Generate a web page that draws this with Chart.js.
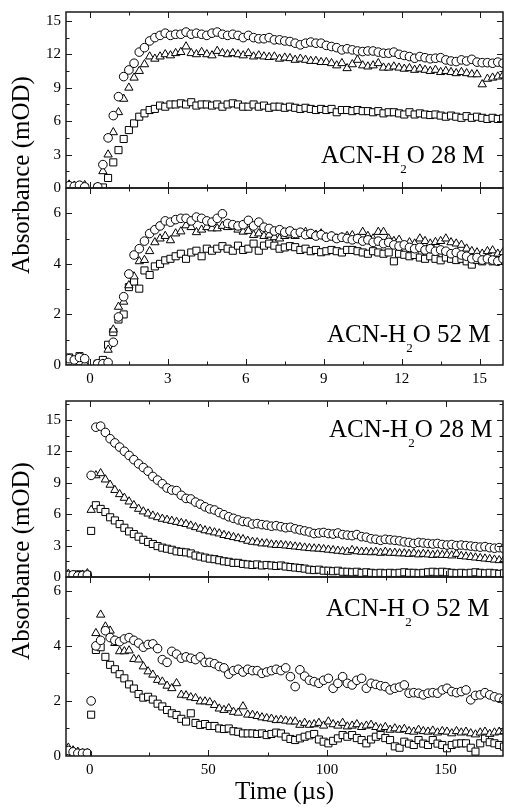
<!DOCTYPE html>
<html>
<head>
<meta charset="utf-8">
<title>Transient absorbance</title>
<script src="https://cdn.jsdelivr.net/npm/chart.js"></script>
<style>
  html, body { margin: 0; padding: 0; background: #fff; }
  #wrap { position: relative; width: 509px; height: 810px; }
  #wrap canvas { position: absolute; left: 0; top: 0; }
</style>
</head>
<body>
<div id="wrap">
  <canvas id="p1" width="509" height="810"></canvas>
  <canvas id="p2" width="509" height="810"></canvas>
  <canvas id="p3" width="509" height="810"></canvas>
  <canvas id="p4" width="509" height="810"></canvas>
</div>
<script>
const SERIF = '"Liberation Serif", "Times New Roman", Times, serif';

// time axes (µs)
const tShort = [-0.8, -0.6, -0.4, -0.2,
  0.3, 0.5, 0.7, 0.9, 1.1, 1.3, 1.5, 1.7, 1.9, 2.1,
  2.3, 2.5, 2.7, 2.9, 3.1, 3.3, 3.5, 3.7, 3.9, 4.1,
  4.3, 4.5, 4.7, 4.9, 5.1, 5.3, 5.5, 5.7, 5.9, 6.1,
  6.3, 6.5, 6.7, 6.9, 7.1, 7.3, 7.5, 7.7, 7.9, 8.1,
  8.3, 8.5, 8.7, 8.9, 9.1, 9.3, 9.5, 9.7, 9.9, 10.1,
  10.3, 10.5, 10.7, 10.9, 11.1, 11.3, 11.5, 11.7, 11.9, 12.1,
  12.3, 12.5, 12.7, 12.9, 13.1, 13.3, 13.5, 13.7, 13.9, 14.1,
  14.3, 14.5, 14.7, 14.9, 15.1, 15.3, 15.5, 15.7, 15.9];

const tLong = [-9, -7, -5, -3, -1,
  0.6, 2.6, 4.6, 6.6, 8.6, 10.6, 12.6, 14.6, 16.6, 18.6,
  20.6, 22.6, 24.6, 26.6, 28.6, 30.6, 32.6, 34.6, 36.6, 38.6,
  40.6, 42.6, 44.6, 46.6, 48.6, 50.6, 52.6, 54.6, 56.6, 58.6,
  60.6, 62.6, 64.6, 66.6, 68.6, 70.6, 72.6, 74.6, 76.6, 78.6,
  80.6, 82.6, 84.6, 86.6, 88.6, 90.6, 92.6, 94.6, 96.6, 98.6,
  100.6, 102.6, 104.6, 106.6, 108.6, 110.6, 112.6, 114.6, 116.6, 118.6,
  120.6, 122.6, 124.6, 126.6, 128.6, 130.6, 132.6, 134.6, 136.6, 138.6,
  140.6, 142.6, 144.6, 146.6, 148.6, 150.6, 152.6, 154.6, 156.6, 158.6,
  160.6, 162.6, 164.6, 166.6, 168.6, 170.6, 172.6, 174.6];

// ACN-H2O 28 M, short window (mOD)
const circ28s = [0.2, 0.15, 0.25, 0.1,
  0.1, 2.1, 4.5, 6.5, 8.2, 10.0, 10.6, 11.2, 12.2, 12.6,
  13.2, 13.5, 13.7, 13.9, 13.7, 13.8, 13.8, 14.0, 13.8, 13.9,
  13.8, 13.7, 13.9, 14.0, 13.8, 13.7, 13.8, 13.7, 13.5, 13.7,
  13.5, 13.4, 13.4, 13.5, 13.3, 13.3, 13.2, 13.15, 13.0, 12.85,
  13.0, 13.1, 13.0, 13.0, 12.8, 12.7, 12.6, 12.4, 12.5, 12.4,
  12.3, 12.25, 12.3, 12.3, 12.2, 12.1, 12.1, 12.2, 12.0, 11.9,
  11.8, 11.65, 11.8, 11.7, 11.6, 11.65, 11.7, 11.5, 11.4, 11.35,
  11.5, 11.4, 11.55, 11.3, 11.25, 11.25, 11.2, 11.3, 11.2];
const tri28s = [0.3, 0.2, 0.2, 0.25,
  0.1, 1.5, 3.0, 5.0, 6.8, 8.0, 9.0, 9.9, 10.5, 11.1,
  11.8, 11.6, 11.8, 12.0, 11.9, 12.1, 12.2, 12.7, 12.1, 12.0,
  12.2, 12.0, 11.9, 12.3, 12.1, 12.0, 12.1, 12.0, 11.9, 12.1,
  11.8, 11.9, 11.8, 11.75, 11.8, 11.6, 11.7, 11.65, 11.5, 11.6,
  11.5, 11.4, 11.4, 11.3, 11.3, 11.2, 11.0, 11.2, 10.75, 11.1,
  11.5, 11.0, 10.9, 11.0, 11.2, 10.8, 10.8, 10.9, 10.8, 10.7,
  10.75, 10.6, 10.7, 10.6, 10.5, 10.6, 10.4, 10.5, 10.4, 10.3,
  10.4, 10.3, 10.2, 10.2, 9.3, 9.8, 9.9, 10.0, 10.1];
const sq28s = [0.15, 0.1, 0.1, 0.05,
  0.05, 0.05, 0.9, 2.3, 3.4, 4.4, 5.2, 5.8, 6.4, 6.7,
  7.0, 7.1, 7.4, 7.3, 7.5, 7.5, 7.6, 7.5, 7.7, 7.4,
  7.5, 7.5, 7.4, 7.5, 7.3, 7.5, 7.6, 7.5, 7.3, 7.3,
  7.5, 7.3, 7.4, 7.2, 7.3, 7.3, 7.2, 7.3, 7.2, 7.1,
  7.2, 7.1, 7.0, 7.1, 7.0, 7.1, 6.8, 7.0, 7.0, 6.9,
  7.0, 6.9, 6.9, 6.8, 6.9, 6.7, 6.8, 6.8, 6.7, 6.6,
  6.8, 6.6, 6.7, 6.6, 6.55, 6.6, 6.5, 6.4, 6.5, 6.4,
  6.3, 6.45, 6.3, 6.4, 6.3, 6.2, 6.3, 6.2, 6.25];

// ACN-H2O 52 M, short window (mOD)
const circ52s = [0.25, 0.2, 0.3, 0.25,
  0.05, 0.05, 0.1, 0.9, 1.9, 2.7, 3.6, 4.35, 4.6, 4.9,
  5.2, 5.35, 5.5, 5.7, 5.65, 5.75, 5.8, 5.8, 5.7, 5.85,
  5.8, 5.7, 5.65, 5.8, 5.98, 5.6, 5.55, 5.5, 5.55, 5.72,
  5.5, 5.65, 5.45, 5.4, 5.3, 5.35, 5.25, 5.3, 5.2, 5.25,
  5.15, 5.2, 5.1, 5.15, 5.05, 5.1, 5.0, 5.05, 5.0, 4.95,
  5.0, 4.9, 4.95, 4.85, 4.9, 4.8, 4.85, 4.75, 4.7, 4.75,
  4.65, 4.6, 4.65, 4.55, 4.6, 4.5, 4.55, 4.5, 4.4, 4.45,
  4.35, 4.3, 4.2, 4.25, 4.15, 4.2, 4.15, 4.1, 4.2];
const tri52s = [0.1, 0.05, 0.1, 0.05,
  0.0, 0.05, 0.6, 1.4, 2.3, 2.5, 3.15, 3.5, 4.1, 4.15,
  4.5, 4.85, 5.0, 5.1, 4.93, 5.2, 5.28, 5.52, 5.45, 5.25,
  5.35, 5.45, 5.4, 5.4, 5.5, 5.45, 5.47, 5.35, 5.27, 5.3,
  5.14, 5.2, 5.1, 5.15, 5.05, 5.0, 5.1, 5.15, 5.1, 5.2,
  5.26, 5.1, 5.15, 5.2, 5.05, 5.1, 5.0, 5.05, 5.1, 5.13,
  5.0, 5.26, 5.1, 5.0, 5.26, 5.26, 5.0, 4.9, 4.95, 4.72,
  4.85, 4.8, 5.0, 4.9, 4.8, 4.86, 4.9, 5.0, 4.85, 4.8,
  4.75, 4.6, 4.5, 4.45, 4.4, 4.5, 4.53, 4.4, 4.46];
const sq52s = [0.3, 0.2, 0.35, 0.15,
  0.05, 0.2, 0.8, 1.3, 1.8, 2.0, 3.08, 3.3, 3.02, 3.74,
  3.56, 3.9, 4.0, 4.14, 4.2, 4.3, 4.4, 4.2, 4.45, 4.52,
  4.3, 4.6, 4.52, 4.6, 4.7, 4.6, 4.52, 4.72, 4.55, 4.6,
  4.8, 4.52, 4.72, 4.8, 4.72, 4.6, 4.65, 4.7, 4.66, 4.55,
  4.6, 4.5, 4.55, 4.46, 4.5, 4.55, 4.5, 4.45, 4.55, 4.55,
  4.5, 4.45, 4.4, 4.5, 4.45, 4.4, 4.45, 4.1, 4.4, 4.36,
  4.3, 4.35, 4.25, 4.2, 4.3, 4.2, 4.14, 4.25, 4.2, 4.15,
  4.2, 4.1, 3.97, 4.15, 4.1, 4.2, 4.1, 4.15, 4.2];

// ACN-H2O 28 M, long window (mOD)
const circ28l = [0.15, 0.2, 0.1, 0.15, 0.2,
  9.7, 14.3, 14.4, 13.8, 13.2, 12.8, 12.4, 12.0, 11.6, 11.2,
  10.8, 10.45, 10.1, 9.6, 9.25, 8.9, 8.5, 8.3, 8.25, 7.8,
  7.5, 7.45, 7.15, 6.95, 6.7, 6.5, 6.4, 6.15, 5.95, 5.75,
  5.6, 5.45, 5.3, 5.25, 5.05, 5.1, 5.0, 4.95, 4.85, 4.9,
  4.8, 4.7, 4.75, 4.6, 4.5, 4.4, 4.3, 4.15, 4.2, 4.25,
  4.15, 4.1, 4.2, 4.05, 4.0, 3.95, 4.05, 3.85, 3.8, 3.65,
  3.6, 3.5, 3.6, 3.55, 3.5, 3.45, 3.35, 3.3, 3.2, 3.3,
  3.25, 3.2, 3.15, 3.2, 3.1, 3.05, 3.1, 3.0, 3.05, 3.0,
  2.95, 2.9, 2.85, 2.9, 2.8, 2.75, 2.8, 2.7];
const tri28l = [0.3, 0.2, 0.15, 0.2, 0.35,
  6.4, 9.7, 9.9, 9.3, 8.8, 8.3, 7.9, 7.55, 7.2, 6.85,
  6.5, 6.25, 6.05, 5.85, 5.7, 5.55, 5.45, 5.35, 5.25, 5.15,
  5.05, 4.9, 4.75, 4.6, 4.45, 4.35, 4.25, 4.15, 4.0, 3.9,
  3.8, 3.7, 3.6, 3.45, 3.35, 3.3, 3.2, 3.2, 3.1, 3.05,
  3.05, 3.0, 2.95, 2.9, 2.85, 2.8, 2.75, 2.72, 2.7, 2.65,
  2.6, 2.55, 2.5, 2.45, 2.4, 2.56, 2.45, 2.4, 2.4, 2.35,
  2.4, 2.3, 2.4, 2.3, 2.3, 2.25, 2.25, 2.2, 2.25, 2.15,
  2.2, 2.15, 2.1, 2.15, 2.1, 2.1, 2.05, 2.2, 2.0, 1.95,
  1.9, 1.85, 1.8, 1.75, 1.7, 1.65, 1.6, 1.65];
const sq28l = [0.2, 0.15, 0.25, 0.2, 0.2,
  4.4, 6.85, 6.5, 6.2, 5.7, 5.4, 5.05, 4.7, 4.35, 4.1,
  3.85, 3.55, 3.35, 3.15, 2.95, 2.8, 2.7, 2.6, 2.45, 2.4,
  2.35, 2.25, 2.05, 1.95, 1.85, 1.75, 1.7, 1.6, 1.5, 1.45,
  1.35, 1.35, 1.25, 1.2, 1.15, 1.2, 1.1, 1.15, 1.1, 1.05,
  1.1, 1.0, 0.95, 0.9, 0.85, 0.8, 0.7, 0.66, 0.7, 0.6,
  0.6, 0.55, 0.6, 0.5, 0.5, 0.45, 0.5, 0.4, 0.45, 0.4,
  0.35, 0.4, 0.35, 0.4, 0.35, 0.4, 0.45, 0.4, 0.4, 0.35,
  0.4, 0.45, 0.5, 0.45, 0.5, 0.45, 0.4, 0.35, 0.4, 0.35,
  0.4, 0.45, 0.4, 0.35, 0.4, 0.35, 0.3, 0.35];

// ACN-H2O 52 M, long window (mOD)
const circ52l = [0.2, 0.15, 0.1, 0.1, 0.1,
  2.0, 4.0, 4.2, 4.55, 4.3, 4.2, 4.15, 4.25, 4.3, 4.2,
  4.1, 3.95, 4.05, 4.07, 3.9, 3.5, 3.4, 3.8, 3.7, 3.55,
  3.6, 3.55, 3.5, 3.6, 3.4, 3.4, 3.35, 3.25, 3.2, 2.97,
  3.1, 3.15, 3.05, 3.15, 3.1, 3.1, 3.0, 3.05, 3.1, 3.15,
  3.1, 3.2, 2.88, 2.52, 3.13, 2.9, 2.75, 2.7, 2.64, 2.75,
  2.82, 2.46, 2.64, 2.88, 2.64, 2.58, 2.75, 2.82, 2.46, 2.64,
  2.6, 2.55, 2.52, 2.4, 2.46, 2.5, 2.58, 2.28, 2.3, 2.28,
  2.22, 2.28, 2.3, 2.28, 2.4, 2.46, 2.34, 2.3, 2.34, 2.4,
  2.04, 2.2, 2.22, 2.3, 2.22, 2.15, 2.1, 2.04];
const tri52l = [0.3, 0.2, 0.15, 0.1, 0.1,
  null, 4.46, 5.13, 4.7, 4.55, 4.1, 3.8, 3.8, 3.83, 3.52,
  3.5, 3.25, 3.07, 2.95, 2.76, 2.7, 2.55, 2.46, 2.64, 2.22,
  2.2, 2.13, 2.1, 1.98, 1.98, 1.95, 1.85, 1.72, 1.67, 1.73,
  1.6, 1.57, 1.8, 1.5, 1.49, 1.45, 1.4, 1.37, 1.35, 1.3,
  1.31, 1.28, 1.25, 1.25, 1.13, 1.2, 1.13, 1.15, 1.2, 1.1,
  1.25, 1.15, 1.1, 1.2, 1.07, 1.1, 1.15, 1.05, 1.1, 1.13,
  1.05, 1.0, 1.05, 0.95, 1.0, 0.95, 0.98, 0.9, 0.88, 0.95,
  0.9, 0.88, 0.92, 0.85, 0.9, 0.88, 0.82, 0.9, 0.85, 0.88,
  0.82, 0.78, 0.85, 0.88, 0.8, 0.85, 0.88, 0.9];
const sq52l = [0.05, 0.1, 0.05, 0.1, 0.05,
  1.5, 3.85, 3.95, 3.6, 3.31, 3.15, 2.97, 2.82, 2.6, 2.45,
  2.25, 2.12, 2.15, 2.05, 1.9, 1.8, 1.67, 1.55, 1.49, 1.35,
  1.25, 1.55, 1.2, 1.13, 1.16, 1.09, 1.09, 1.0, 0.98, 1.0,
  0.9, 0.88, 0.82, 0.82, 0.82, 0.8, 0.82, 0.76, 0.8, 0.85,
  0.82, 0.7, 0.62, 0.58, 0.64, 0.7, 0.75, 0.8, 0.6, 0.52,
  0.46, 0.55, 0.64, 0.76, 0.7, 0.76, 0.65, 0.58, 0.46, 0.6,
  0.7, 0.76, 0.65, 0.58, 0.35, 0.3, 0.52, 0.45, 0.4, 0.58,
  0.45, 0.4, 0.58, 0.45, 0.4, 0.28, 0.4, 0.45, 0.46, 0.46,
  0.3, 0.16, 0.46, 0.64, 0.5, 0.46, 0.4, 0.34];

// ticks
const xTicksShort = [0, 3, 6, 9, 12, 15];
const xMinorShort = [1.5, 4.5, 7.5, 10.5, 13.5];
const xTicksLong = [0, 50, 100, 150];
const xMinorLong = [25, 75, 125];
const yTicks15 = [0, 3, 6, 9, 12, 15];
const yMinor15 = [1.5, 4.5, 7.5, 10.5, 13.5, 16.5];
const yTicks6 = [0, 2, 4, 6];
const yMinor6 = [1, 3, 5];

Chart.defaults.font.family = SERIF;
Chart.defaults.color = '#000';

// frame, inward tick marks, sample label and shared y title
const panelDecor = {
  id: 'panelDecor',
  afterDraw(chart, args, o) {
    const { ctx, chartArea: a } = chart;
    const xs = chart.scales.x, ys = chart.scales.y;
    ctx.save();
    ctx.strokeStyle = '#1a1a1a';
    ctx.lineWidth = 1;
    ctx.beginPath();
    const xMarks = (vals, len) => vals.forEach(v => {
      const px = Math.round(xs.getPixelForValue(v)) + 0.5;
      if (px < a.left + 2 || px > a.right - 2) return;
      ctx.moveTo(px, a.bottom); ctx.lineTo(px, a.bottom - len);
      ctx.moveTo(px, a.top); ctx.lineTo(px, a.top + len);
    });
    const yMarks = (vals, len) => vals.forEach(v => {
      const py = Math.round(ys.getPixelForValue(v)) + 0.5;
      if (py < a.top + 2 || py > a.bottom - 2) return;
      ctx.moveTo(a.left, py); ctx.lineTo(a.left + len, py);
      ctx.moveTo(a.right, py); ctx.lineTo(a.right - len, py);
    });
    xMarks(o.xMajor, 6); xMarks(o.xMinor, 3.5);
    yMarks(o.yMajor, 6); yMarks(o.yMinor, 3.5);
    ctx.stroke();
    ctx.lineWidth = 1.5;
    ctx.strokeRect(a.left, a.top, a.right - a.left, a.bottom - a.top);

    ctx.fillStyle = '#000';
    ctx.textAlign = 'left';
    ctx.textBaseline = 'alphabetic';
    if (o.label) {
      const L = o.label;
      ctx.font = '25px ' + SERIF;
      ctx.fillText('ACN-H', L.x, L.y);
      let x = L.x + ctx.measureText('ACN-H').width;
      ctx.font = '13px ' + SERIF;
      ctx.fillText('2', x, L.y + 9.5);
      x += ctx.measureText('2').width;
      ctx.font = '25px ' + SERIF;
      ctx.fillText('O ' + L.conc, x, L.y);
    }
    if (o.yTitle) {
      ctx.translate(o.yTitle.x, o.yTitle.y);
      ctx.rotate(-Math.PI / 2);
      ctx.textAlign = 'center';
      ctx.font = '25px ' + SERIF;
      ctx.fillText('Absorbance (mOD)', 0, 0);
    }
    ctx.restore();
  }
};

function makePanel(id, p) {
  const pts = ys => p.t.map((x, i) => ({ x: x, y: ys[i] }));
  const series = [
    { ys: p.circ, style: 'circle', r: 4.3 },
    { ys: p.tri, style: 'triangle', r: 4.8 },
    { ys: p.sq, style: 'rect', r: 5 }
  ];
  return new Chart(document.getElementById(id), {
    type: 'scatter',
    data: {
      datasets: series.map(s => ({
        data: pts(s.ys),
        pointStyle: s.style,
        pointRadius: s.r,
        pointBackgroundColor: '#fff',
        pointBorderColor: '#000',
        pointBorderWidth: 1,
        showLine: false
      }))
    },
    options: {
      responsive: false,
      animation: false,
      devicePixelRatio: 1,
      events: [],
      layout: { padding: { top: p.top, bottom: p.padBottom, left: 0, right: 1 } },
      plugins: {
        legend: { display: false },
        tooltip: { enabled: false },
        panelDecor: {
          xMajor: p.xMajor, xMinor: p.xMinor,
          yMajor: p.yMajor, yMinor: p.yMinor,
          label: p.label, yTitle: p.yTitle
        }
      },
      scales: {
        x: {
          type: 'linear',
          min: p.xMin, max: p.xMax,
          display: p.showX,
          grid: { display: false, drawTicks: false },
          border: { display: false },
          ticks: { font: { size: 15 }, padding: 5, maxRotation: 0, autoSkip: false },
          title: p.xTitle
            ? { display: true, text: p.xTitle, font: { size: 25 }, padding: { top: 0, bottom: 3 } }
            : { display: false },
          afterBuildTicks: s => { s.ticks = p.xMajor.map(v => ({ value: v })); },
          afterFit: s => {
            s.height = p.xHeight;
            s.paddingLeft = 0; s.paddingRight = 0;
          }
        },
        y: {
          type: 'linear',
          min: p.yMin, max: p.yMax,
          grid: { display: false, drawTicks: false },
          border: { display: false },
          ticks: { font: { size: 15 }, padding: 5 },
          afterBuildTicks: s => { s.ticks = p.yMajor.map(v => ({ value: v })); },
          afterFit: s => {
            s.width = 66;
            s.paddingTop = 0; s.paddingBottom = 0;
          }
        }
      }
    },
    plugins: [panelDecor]
  });
}

makePanel('p1', {
  t: tShort, circ: circ28s, tri: tri28s, sq: sq28s,
  top: 12, padBottom: 622, showX: false, xHeight: 0,
  xMin: -0.92, xMax: 15.9, yMin: 0, yMax: 15.8,
  xMajor: xTicksShort, xMinor: xMinorShort, yMajor: yTicks15, yMinor: yMinor15,
  label: { x: 321, y: 163, conc: '28 M' },
  yTitle: { x: 29, y: 175 }
});
makePanel('p2', {
  t: tShort, circ: circ52s, tri: tri52s, sq: sq52s,
  top: 188, padBottom: 415, showX: true, xHeight: 30,
  xMin: -0.92, xMax: 15.9, yMin: 0, yMax: 7,
  xMajor: xTicksShort, xMinor: xMinorShort, yMajor: yTicks6, yMinor: yMinor6,
  label: { x: 327, y: 342, conc: '52 M' }
});
makePanel('p3', {
  t: tLong, circ: circ28l, tri: tri28l, sq: sq28l,
  top: 401, padBottom: 233, showX: false, xHeight: 0,
  xMin: -10, xMax: 174.2, yMin: 0, yMax: 16.8,
  xMajor: xTicksLong, xMinor: xMinorLong, yMajor: yTicks15, yMinor: yMinor15,
  label: { x: 329, y: 437, conc: '28 M' },
  yTitle: { x: 29, y: 561 }
});
makePanel('p4', {
  t: tLong, circ: circ52l, tri: tri52l, sq: sq52l,
  top: 577, padBottom: 0, showX: true, xHeight: 54,
  xMin: -10, xMax: 174.2, yMin: 0, yMax: 6.5,
  xMajor: xTicksLong, xMinor: xMinorLong, yMajor: yTicks6, yMinor: yMinor6,
  label: { x: 326, y: 616, conc: '52 M' },
  xTitle: 'Time (µs)'
});
</script>
</body>
</html>
